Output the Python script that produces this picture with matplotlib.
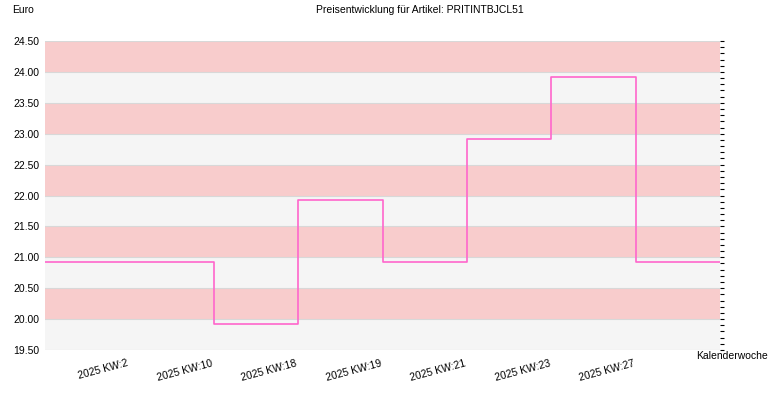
import matplotlib
matplotlib.use("Agg")
import matplotlib.pyplot as plt
import numpy as np
plt.rcParams["font.family"] = "Liberation Sans"

weeks = ["2025 KW:2", "2025 KW:10", "2025 KW:18", "2025 KW:19", "2025 KW:21", "2025 KW:23", "2025 KW:27"]
prices = [20.92, 19.92, 21.92, 20.92, 22.92, 23.92, 20.92]

fig = plt.figure(figsize=(7.7, 4.0), dpi=100)
ax = fig.add_axes([45/770, 1-350/400, 675/770, 309/400])
ymin, ymax = 19.5, 24.5
for i, y0 in enumerate(np.arange(ymin, ymax, 0.5)):
    ax.axhspan(y0, y0+0.5, color="#f8cccc" if i % 2 == 1 else "#f5f5f5", lw=0, zorder=0)
for y in np.arange(ymin, ymax+0.01, 0.5):
    ax.axhline(y, color="#d8d8d8", lw=0.8, zorder=1)

n = len(prices)
xs = [0] + [i+1 for i in range(n)] + [n+1]
ys = [prices[0]] + prices + [prices[-1]]
ax.step(xs, ys, where="post", color="#ff66cc", lw=1.2, zorder=3)

ax.set_xlim(0, n+1)
ax.set_ylim(ymin, ymax)
ax.set_xticks(range(1, n+1))
ax.set_xticklabels(weeks, rotation=15, ha="right", fontsize=7.5)
ax.tick_params(axis="x", length=0, pad=6)
ax.set_yticks(np.arange(ymin, ymax+0.01, 0.5))
ax.set_yticklabels([f"{v:.2f}" for v in np.arange(ymin, ymax+0.01, 0.5)], fontsize=7.5)
ax.tick_params(axis="y", length=0, pad=4)
for s in ax.spines.values():
    s.set_visible(False)
ax2 = ax.twinx()
ax2.set_ylim(ymin, ymax)
ax2.set_yticks(np.arange(ymin, ymax+0.01, 0.1))
ax2.set_yticklabels([])
ax2.tick_params(axis="y", length=3, direction="out", width=0.8)
for s in ax2.spines.values():
    s.set_visible(False)

fig.text(12/770, 1-10/400, "Euro", fontsize=7.5, va="center")
fig.text(420/770, 1-10/400, "Preisentwicklung für Artikel: PRITINTBJCL51", fontsize=7.5, ha="center", va="center")
fig.text(732/770, 1-356/400, "Kalenderwoche", fontsize=7.5, ha="center", va="center")
fig.savefig("out.png", dpi=100)
